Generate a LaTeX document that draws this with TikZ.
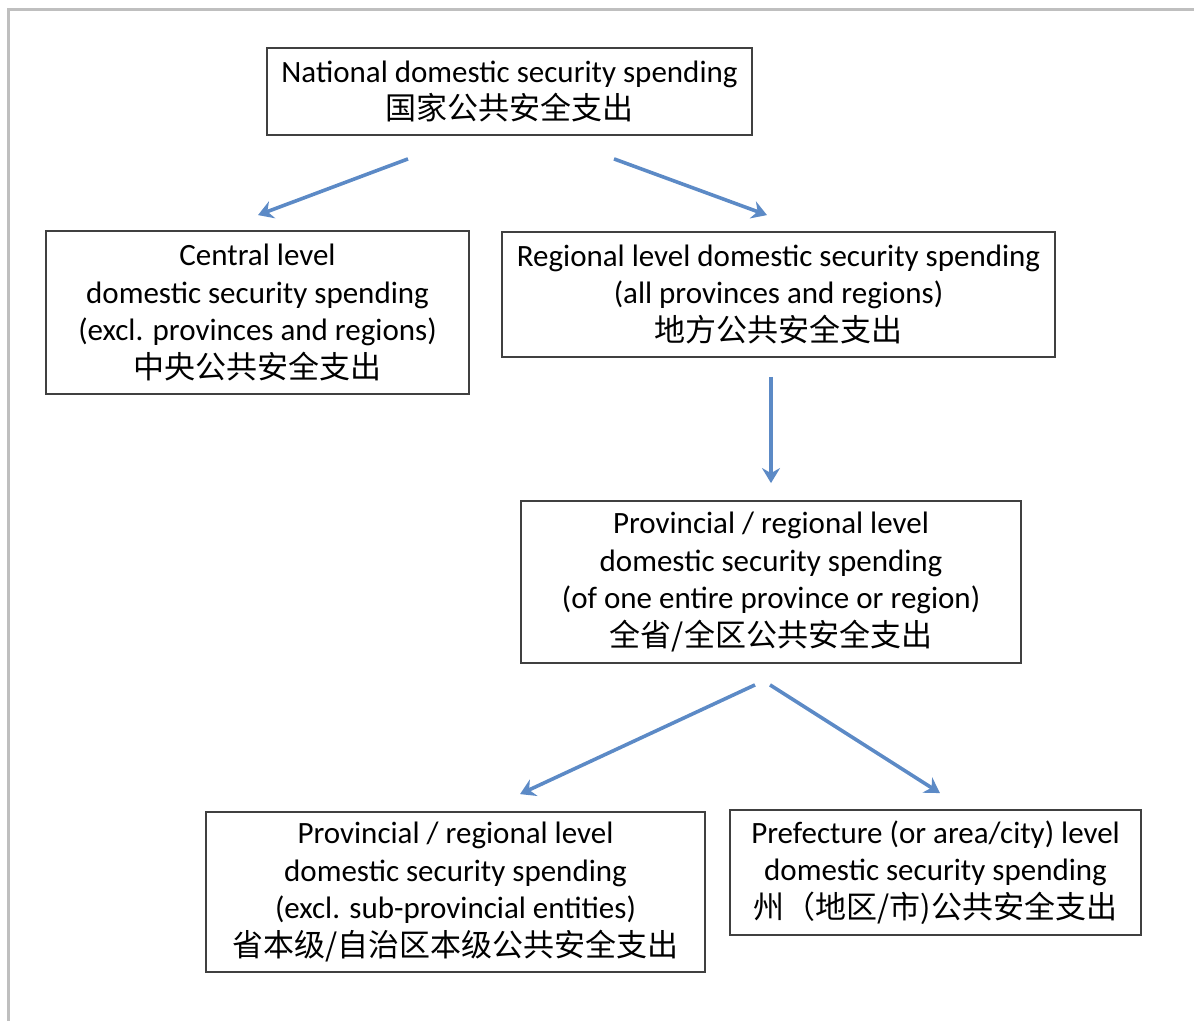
\documentclass[tikz,border=0pt]{standalone}
\usepackage{fontspec}
\setmainfont{Carlito}
\newfontfamily\cjk[Scale=1.0]{Noto Sans CJK SC}
\usetikzlibrary{calc,arrows.meta}
\definecolor{arrowblue}{RGB}{92,138,198}
\begin{document}
\begin{tikzpicture}[x=0.5pt, y=-0.5pt,
	box/.style={draw=black!75, line width=0.9pt, align=center, inner sep=2pt,
		font=\fontsize{15.5}{18.7}\selectfont},
	flow/.style={draw=arrowblue, line width=1.8pt, -{Stealth[length=7.5pt,width=9pt,inset=2.5pt]}}]
	\useasboundingbox (0,0) rectangle (1194,1021);
	
	%frame
	\draw[black!25, line width=1.5pt] (8,1021)--(8,10)--(1194,10);
	
	%boxes
	\node[box, minimum width=242.5pt, minimum height=43.5pt] (nat) at (509.5,91.5)
		{National domestic security spending\\ {\cjk 国家公共安全支出}};
	\node[box, minimum width=211.5pt, minimum height=81.5pt] (central) at (257.5,312.5)
		{Central level\\ domestic security spending\\ (excl. provinces and regions)\\ {\cjk 中央公共安全支出}};
	\node[box, minimum width=276.5pt, minimum height=62.5pt] (regional) at (778.5,294.5)
		{Regional level domestic security spending\\ (all provinces and regions)\\ {\cjk 地方公共安全支出}};
	\node[box, minimum width=250pt, minimum height=81pt] (prov) at (771,582)
		{Provincial / regional level\\ domestic security spending\\ (of one entire province or region)\\ {\cjk 全省/全区公共安全支出}};
	\node[box, minimum width=249.5pt, minimum height=80pt] (provown) at (455.5,892)
		{Provincial / regional level\\ domestic security spending\\ (excl. sub-provincial entities)\\ {\cjk 省本级/自治区本级公共安全支出}};
	\node[box, minimum width=205.5pt, minimum height=62.5pt] (pref) at (935.5,872.5)
		{Prefecture (or area/city) level\\ domestic security spending\\ {\cjk 州（地区/市)公共安全支出}};
	
	%arrows
	\draw[flow] ($(nat.south)+(-101.5,23)$)--($(central.north)+(0.5,-15)$);
	\draw[flow] ($(nat.south)+(104.5,23)$)--($(regional.north)+(-11.5,-16)$);
	\draw[flow] ($(regional.south)+(-7.5,19)$)--($(prov.north)+(0,-17)$);
	\draw[flow] ($(prov.south)+(-16,21)$)--($(provown.north)+(64.5,-17)$);
	\draw[flow] ($(prov.south)+(-1,21)$)--($(pref.north)+(4.5,-16)$);
\end{tikzpicture}
\end{document}
